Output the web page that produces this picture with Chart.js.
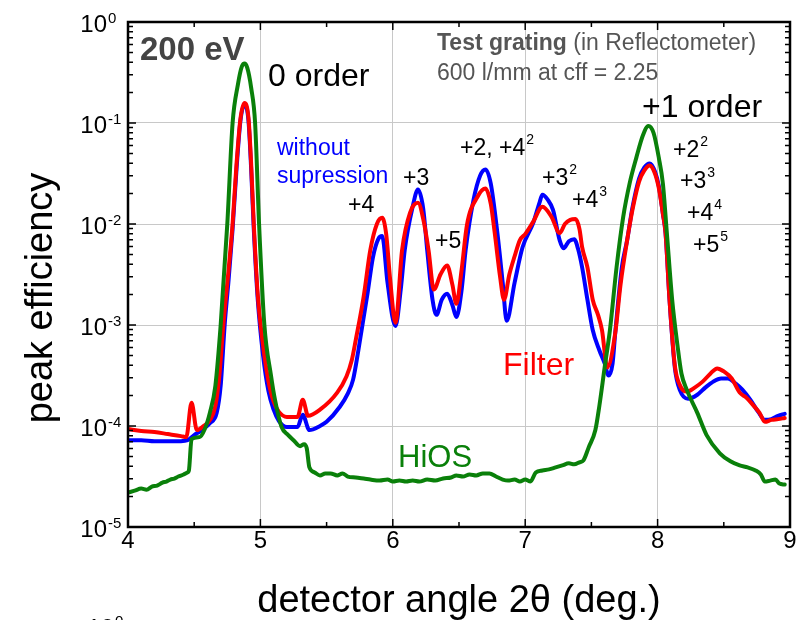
<!DOCTYPE html>
<html>
<head>
<meta charset="utf-8">
<script src="https://cdn.jsdelivr.net/npm/chart.js@4.4.1/dist/chart.umd.min.js"></script>
<style>
  html, body { margin: 0; padding: 0; background: #fff; }
</style>
</head>
<body>
<canvas id="efficiency-chart" width="798" height="620"></canvas>
<script>
// detector angle 2theta (deg.) and peak efficiency, 200 eV scan
const hiosX = [4.00, 4.05, 4.10, 4.14, 4.18, 4.22, 4.26, 4.29, 4.32, 4.35, 4.38, 4.42, 4.45, 4.46, 4.48, 4.54, 4.58, 4.62, 4.66, 4.70,
  4.75, 4.79, 4.83, 4.86, 4.88, 4.90, 4.93, 4.96, 4.99, 5.03, 5.08, 5.11, 5.16, 5.21, 5.25, 5.30, 5.33, 5.35, 5.37, 5.41,
  5.45, 5.49, 5.53, 5.58, 5.62, 5.66, 5.72, 5.78, 5.83, 5.90, 5.96, 6.00, 6.05, 6.10, 6.15, 6.20, 6.26, 6.32, 6.38, 6.44,
  6.48, 6.53, 6.58, 6.63, 6.68, 6.73, 6.78, 6.83, 6.87, 6.92, 6.96, 7.00, 7.04, 7.08, 7.13, 7.18, 7.23, 7.28, 7.33, 7.37,
  7.41, 7.44, 7.48, 7.53, 7.56, 7.60, 7.64, 7.69, 7.74, 7.79, 7.84, 7.89, 7.93, 7.97, 8.01, 8.04, 8.07, 8.11, 8.15, 8.18,
  8.22, 8.30, 8.37, 8.47, 8.55, 8.62, 8.68, 8.74, 8.78, 8.81, 8.85, 8.89, 8.92, 8.96];
const hiosY = [2.19e-5, 2.29e-5, 2.40e-5, 2.34e-5, 2.51e-5, 2.57e-5, 2.75e-5, 2.82e-5, 2.95e-5, 3.02e-5, 3.16e-5, 3.31e-5, 3.47e-5, 3.63e-5, 7.41e-5, 7.76e-5, 9.33e-5, 1.38e-4, 2.51e-4, 1.0e-3,
  1.0e-2, 0.10, 0.24, 0.363, 0.389, 0.355, 0.224, 0.10, 1.0e-2, 1.0e-3, 3.16e-4, 1.82e-4, 9.77e-5, 8.13e-5, 7.24e-5, 6.31e-5, 6.61e-5, 6.03e-5, 3.89e-5, 3.47e-5,
  3.24e-5, 3.39e-5, 3.39e-5, 3.24e-5, 3.39e-5, 3.16e-5, 3.09e-5, 3.02e-5, 2.95e-5, 2.88e-5, 2.95e-5, 2.82e-5, 2.88e-5, 2.82e-5, 2.88e-5, 2.82e-5, 2.95e-5, 2.88e-5, 3.02e-5, 3.09e-5,
  3.24e-5, 3.16e-5, 3.31e-5, 3.24e-5, 3.39e-5, 3.39e-5, 3.16e-5, 2.95e-5, 2.88e-5, 2.95e-5, 2.82e-5, 2.95e-5, 2.82e-5, 3.47e-5, 3.63e-5, 3.72e-5, 3.89e-5, 4.07e-5, 4.27e-5, 4.17e-5,
  4.37e-5, 4.57e-5, 6.17e-5, 9.12e-5, 1.58e-4, 3.80e-4, 8.91e-4, 3.72e-3, 1.17e-2, 2.57e-2, 4.57e-2, 7.59e-2, 9.33e-2, 7.94e-2, 4.47e-2, 2.51e-2, 8.13e-3, 1.78e-3, 6.31e-4, 3.31e-4,
  2.29e-4, 1.35e-4, 8.13e-5, 5.37e-5, 4.47e-5, 4.07e-5, 3.89e-5, 3.63e-5, 3.31e-5, 2.82e-5, 2.88e-5, 2.95e-5, 2.69e-5, 2.63e-5];

const filterX = [4.00, 4.10, 4.20, 4.30, 4.40, 4.44, 4.48, 4.52, 4.57, 4.62, 4.66, 4.69, 4.72, 4.76, 4.79, 4.82, 4.85, 4.88, 4.91, 4.93,
  4.95, 4.98, 5.02, 5.06, 5.10, 5.14, 5.20, 5.28, 5.32, 5.36, 5.45, 5.58, 5.65, 5.69, 5.72, 5.78, 5.83, 5.88, 5.92, 5.95,
  5.98, 6.02, 6.07, 6.13, 6.19, 6.23, 6.27, 6.31, 6.36, 6.41, 6.45, 6.48, 6.52, 6.56, 6.64, 6.70, 6.74, 6.77, 6.81, 6.84,
  6.88, 6.92, 6.96, 7.00, 7.06, 7.13, 7.20, 7.26, 7.30, 7.34, 7.38, 7.41, 7.43, 7.47, 7.51, 7.55, 7.58, 7.62, 7.68, 7.72,
  7.77, 7.81, 7.86, 7.90, 7.94, 7.98, 8.01, 8.04, 8.06, 8.09, 8.13, 8.17, 8.22, 8.28, 8.34, 8.40, 8.45, 8.50, 8.56, 8.62,
  8.67, 8.72, 8.77, 8.81, 8.86, 8.91, 8.96];
const filterY = [9.33e-5, 8.91e-5, 8.71e-5, 8.32e-5, 7.94e-5, 7.76e-5, 1.70e-4, 9.12e-5, 1.0e-4, 1.15e-4, 1.58e-4, 3.16e-4, 1.0e-3, 3.55e-3, 1.0e-2, 3.98e-2, 0.112, 0.158, 0.112, 3.98e-2,
  1.0e-2, 2.0e-3, 6.31e-4, 2.82e-4, 1.74e-4, 1.38e-4, 1.23e-4, 1.23e-4, 1.82e-4, 1.26e-4, 1.45e-4, 2.14e-4, 3.09e-4, 4.47e-4, 7.08e-4, 1.91e-3, 5.50e-3, 1.0e-2, 1.15e-2, 7.94e-3,
  2.82e-3, 1.05e-3, 5.50e-3, 1.29e-2, 1.62e-2, 1.12e-2, 5.50e-3, 2.24e-3, 3.16e-3, 3.89e-3, 2.51e-3, 1.62e-3, 3.55e-3, 9.77e-3, 1.86e-2, 2.24e-2, 1.58e-2, 8.13e-3, 3.02e-3, 1.78e-3,
  3.16e-3, 4.79e-3, 6.92e-3, 7.94e-3, 1.05e-2, 1.48e-2, 1.17e-2, 8.13e-3, 1.0e-2, 1.10e-2, 1.12e-2, 8.91e-3, 5.89e-3, 3.72e-3, 1.78e-3, 1.26e-3, 8.91e-4, 3.80e-4, 8.32e-4, 2.51e-3,
  6.92e-3, 1.38e-2, 2.63e-2, 3.39e-2, 3.80e-2, 3.16e-2, 2.24e-2, 1.26e-2, 8.13e-3, 1.78e-3, 3.98e-4, 2.51e-4, 2.19e-4, 2.40e-4, 2.75e-4, 3.31e-4, 3.72e-4, 3.47e-4, 2.95e-4, 2.14e-4,
  1.91e-4, 1.62e-4, 1.35e-4, 1.10e-4, 1.15e-4, 1.17e-4, 1.20e-4];

const plainX = [4.00, 4.10, 4.20, 4.30, 4.40, 4.45, 4.50, 4.56, 4.62, 4.67, 4.70, 4.73, 4.76, 4.79, 4.82, 4.85, 4.88, 4.91, 4.93, 4.95,
  4.98, 5.02, 5.06, 5.10, 5.14, 5.20, 5.28, 5.32, 5.37, 5.45, 5.50, 5.60, 5.66, 5.70, 5.74, 5.81, 5.85, 5.89, 5.92, 5.96,
  6.02, 6.06, 6.09, 6.15, 6.19, 6.23, 6.26, 6.30, 6.33, 6.37, 6.41, 6.45, 6.48, 6.52, 6.55, 6.61, 6.66, 6.70, 6.74, 6.79,
  6.83, 6.86, 6.92, 6.98, 7.06, 7.11, 7.13, 7.17, 7.21, 7.26, 7.29, 7.33, 7.37, 7.40, 7.43, 7.47, 7.51, 7.56, 7.60, 7.63,
  7.66, 7.68, 7.73, 7.77, 7.81, 7.86, 7.90, 7.94, 7.98, 8.01, 8.04, 8.06, 8.09, 8.13, 8.17, 8.23, 8.30, 8.36, 8.42, 8.48,
  8.53, 8.59, 8.64, 8.70, 8.76, 8.81, 8.86, 8.91, 8.96];
const plainY = [7.24e-5, 7.24e-5, 7.08e-5, 7.08e-5, 7.08e-5, 7.24e-5, 8.13e-5, 9.12e-5, 1.07e-4, 1.35e-4, 2.51e-4, 1.0e-3, 2.82e-3, 8.91e-3, 3.55e-2, 0.107, 0.151, 0.105, 3.55e-2, 8.91e-3,
  1.78e-3, 5.01e-4, 2.24e-4, 1.45e-4, 1.12e-4, 9.77e-5, 9.77e-5, 1.29e-4, 9.12e-5, 1.0e-4, 1.10e-4, 1.55e-4, 2.09e-4, 2.88e-4, 5.62e-4, 2.09e-3, 4.68e-3, 7.08e-3, 7.59e-3, 2.63e-3,
  9.77e-4, 2.24e-3, 5.50e-3, 1.48e-2, 2.19e-2, 1.41e-2, 5.50e-3, 1.78e-3, 1.26e-3, 1.78e-3, 2.04e-3, 1.58e-3, 1.20e-3, 2.24e-3, 5.50e-3, 1.74e-2, 3.02e-2, 3.47e-2, 2.51e-2, 8.13e-3,
  2.63e-3, 1.10e-3, 2.63e-3, 5.89e-3, 1.02e-2, 1.66e-2, 1.95e-2, 1.74e-2, 1.38e-2, 6.92e-3, 5.75e-3, 6.76e-3, 7.08e-3, 5.62e-3, 3.72e-3, 1.78e-3, 8.91e-4, 5.62e-4, 4.17e-4, 3.16e-4,
  4.17e-4, 8.32e-4, 3.72e-3, 6.92e-3, 1.45e-2, 2.82e-2, 3.63e-2, 3.98e-2, 3.31e-2, 2.34e-2, 1.26e-2, 8.13e-3, 1.78e-3, 3.80e-4, 2.24e-4, 1.86e-4, 2.04e-4, 2.40e-4, 2.75e-4, 2.95e-4,
  2.95e-4, 2.63e-4, 2.29e-4, 1.82e-4, 1.38e-4, 1.15e-4, 1.17e-4, 1.26e-4, 1.32e-4];

const xTicks = [4, 5, 6, 7, 8, 9];
const yDecades = [0, -1, -2, -3, -4, -5];

const FONT = "'Liberation Sans', Arial, sans-serif";

function pts(xs, ys) {
    return xs.map((x, i) => ({ x: x, y: ys[i] }));
}

// plain text, optionally followed by a raised exponent
function label(ctx, str, x, y, size, color, sup, weight) {
    ctx.font = (weight || '') + ' ' + size + 'px ' + FONT;
    ctx.fillStyle = color;
    ctx.textAlign = 'left';
    ctx.textBaseline = 'alphabetic';
    ctx.fillText(str, x, y);
    if (sup) {
        const w = ctx.measureText(str).width;
        ctx.font = Math.round(size * 0.6) + 'px ' + FONT;
        ctx.fillText(sup, x + w + 1, y - size * 0.48);
    }
}

const framePlugin = {
    id: 'frame',
    afterDatasetsDraw(chart) {
        const { ctx, chartArea: a, scales } = chart;
        const xs = scales.x, ys = scales.y;
        ctx.save();

        // inward tick marks on all four sides
        ctx.strokeStyle = '#000';
        ctx.lineWidth = 1.5;
        ctx.beginPath();
        for (let v = 4; v <= 9.001; v += 0.5) {
            const px = xs.getPixelForValue(v);
            const len = Number.isInteger(v) ? 8 : 5;
            ctx.moveTo(px, a.bottom); ctx.lineTo(px, a.bottom - len);
            ctx.moveTo(px, a.top); ctx.lineTo(px, a.top + len);
        }
        for (let e = -5; e <= 0; e++) {
            for (let m = 1; m <= 9; m++) {
                if (e === 0 && m > 1) break;
                const py = ys.getPixelForValue(m * Math.pow(10, e));
                const len = m === 1 ? 8 : 5;
                ctx.moveTo(a.left, py); ctx.lineTo(a.left + len, py);
                ctx.moveTo(a.right, py); ctx.lineTo(a.right - len, py);
            }
        }
        ctx.stroke();

        ctx.lineWidth = 2.5;
        ctx.strokeRect(a.left, a.top, a.right - a.left, a.bottom - a.top);

        // tick labels
        ctx.fillStyle = '#000';
        ctx.font = '24px ' + FONT;
        ctx.textAlign = 'center';
        ctx.textBaseline = 'alphabetic';
        xTicks.forEach(v => ctx.fillText(String(v), xs.getPixelForValue(v), a.bottom + 21));
        yDecades.forEach(e => {
            const py = ys.getPixelForValue(Math.pow(10, e));
            ctx.font = '24px ' + FONT;
            ctx.textAlign = 'right';
            ctx.fillText('10', a.left - 21, py + 10);
            ctx.font = '15px ' + FONT;
            ctx.textAlign = 'left';
            ctx.fillText(String(e), a.left - 20, py + 1);
        });

        // axis titles
        ctx.font = '38px ' + FONT;
        ctx.textAlign = 'center';
        ctx.fillText('detector angle 2\u03b8 (deg.)', (a.left + a.right) / 2, 612);
        ctx.save();
        ctx.translate(52, 298);
        ctx.rotate(-Math.PI / 2);
        ctx.fillText('peak efficiency', 0, 0);
        ctx.restore();

        // cut-off label of the panel below
        ctx.font = '24px ' + FONT;
        ctx.textAlign = 'right';
        ctx.fillText('10', 114, 636);
        ctx.font = '15px ' + FONT;
        ctx.textAlign = 'left';
        ctx.fillText('0', 115, 626);

        // annotations
        label(ctx, '200 eV', 140, 60, 33, '#444', null, 'bold');
        label(ctx, '0 order', 268, 86, 32, '#000');
        label(ctx, 'Test grating', 437, 50, 23, '#555', null, 'bold');
        ctx.font = 'bold 23px ' + FONT;
        const tw = ctx.measureText('Test grating').width;
        label(ctx, ' (in Reflectometer)', 437 + tw, 50, 23, '#555');
        label(ctx, '600 l/mm at cff = 2.25', 437, 80, 23, '#555');
        label(ctx, '+1 order', 642, 117, 32, '#000');
        label(ctx, 'without', 277, 155, 23, '#0000ff');
        label(ctx, 'supression', 277, 183, 23, '#0000ff');
        label(ctx, '+4', 348, 212, 23, '#000');
        label(ctx, '+3', 403, 185, 23, '#000');
        label(ctx, '+5', 435, 248, 23, '#000');
        label(ctx, '+2, +4', 460, 155, 23, '#000', '2');
        label(ctx, '+3', 542, 185, 23, '#000', '2');
        label(ctx, '+4', 572, 207, 23, '#000', '3');
        label(ctx, '+2', 673, 157, 23, '#000', '2');
        label(ctx, '+3', 680, 188, 23, '#000', '3');
        label(ctx, '+4', 687, 220, 23, '#000', '4');
        label(ctx, '+5', 693, 252, 23, '#000', '5');
        label(ctx, 'Filter', 503, 375, 32, '#ff0000');
        label(ctx, 'HiOS', 398, 467, 31, '#0a800a');

        ctx.restore();
    }
};

const ctx = document.getElementById('efficiency-chart').getContext('2d');
const lineStyle = {
    borderWidth: 4,
    pointRadius: 0,
    cubicInterpolationMode: 'monotone',
    borderJoinStyle: 'round',
    borderCapStyle: 'round',
    fill: false
};

new Chart(ctx, {
    type: 'line',
    data: {
        datasets: [
            Object.assign({ label: 'HiOS', data: pts(hiosX, hiosY), borderColor: '#0a800a', order: 0 }, lineStyle),
            Object.assign({ label: 'Filter', data: pts(filterX, filterY), borderColor: '#ff0000', order: 1 }, lineStyle),
            Object.assign({ label: 'without supression', data: pts(plainX, plainY), borderColor: '#0000ff', order: 2 }, lineStyle)
        ]
    },
    options: {
        responsive: false,
        animation: false,
        layout: { padding: { left: 128, right: 8, top: 22, bottom: 93 } },
        plugins: {
            legend: { display: false },
            tooltip: { enabled: false }
        },
        scales: {
            x: {
                type: 'linear',
                min: 4,
                max: 9,
                ticks: { display: false, stepSize: 1 },
                border: { display: false },
                grid: {
                    drawTicks: false,
                    lineWidth: 1,
                    color: c => (c.tick && c.tick.value > 4 && c.tick.value < 9) ? '#c8c8c8' : 'rgba(0,0,0,0)'
                }
            },
            y: {
                type: 'logarithmic',
                min: 1e-5,
                max: 1,
                afterBuildTicks: s => { s.ticks = yDecades.map(e => ({ value: Math.pow(10, e) })); },
                ticks: { display: false },
                border: { display: false },
                grid: {
                    drawTicks: false,
                    lineWidth: 1,
                    color: c => (c.tick && c.tick.value > 1.5e-5 && c.tick.value < 0.9) ? '#c8c8c8' : 'rgba(0,0,0,0)'
                }
            }
        }
    },
    plugins: [framePlugin]
});
</script>
</body>
</html>
